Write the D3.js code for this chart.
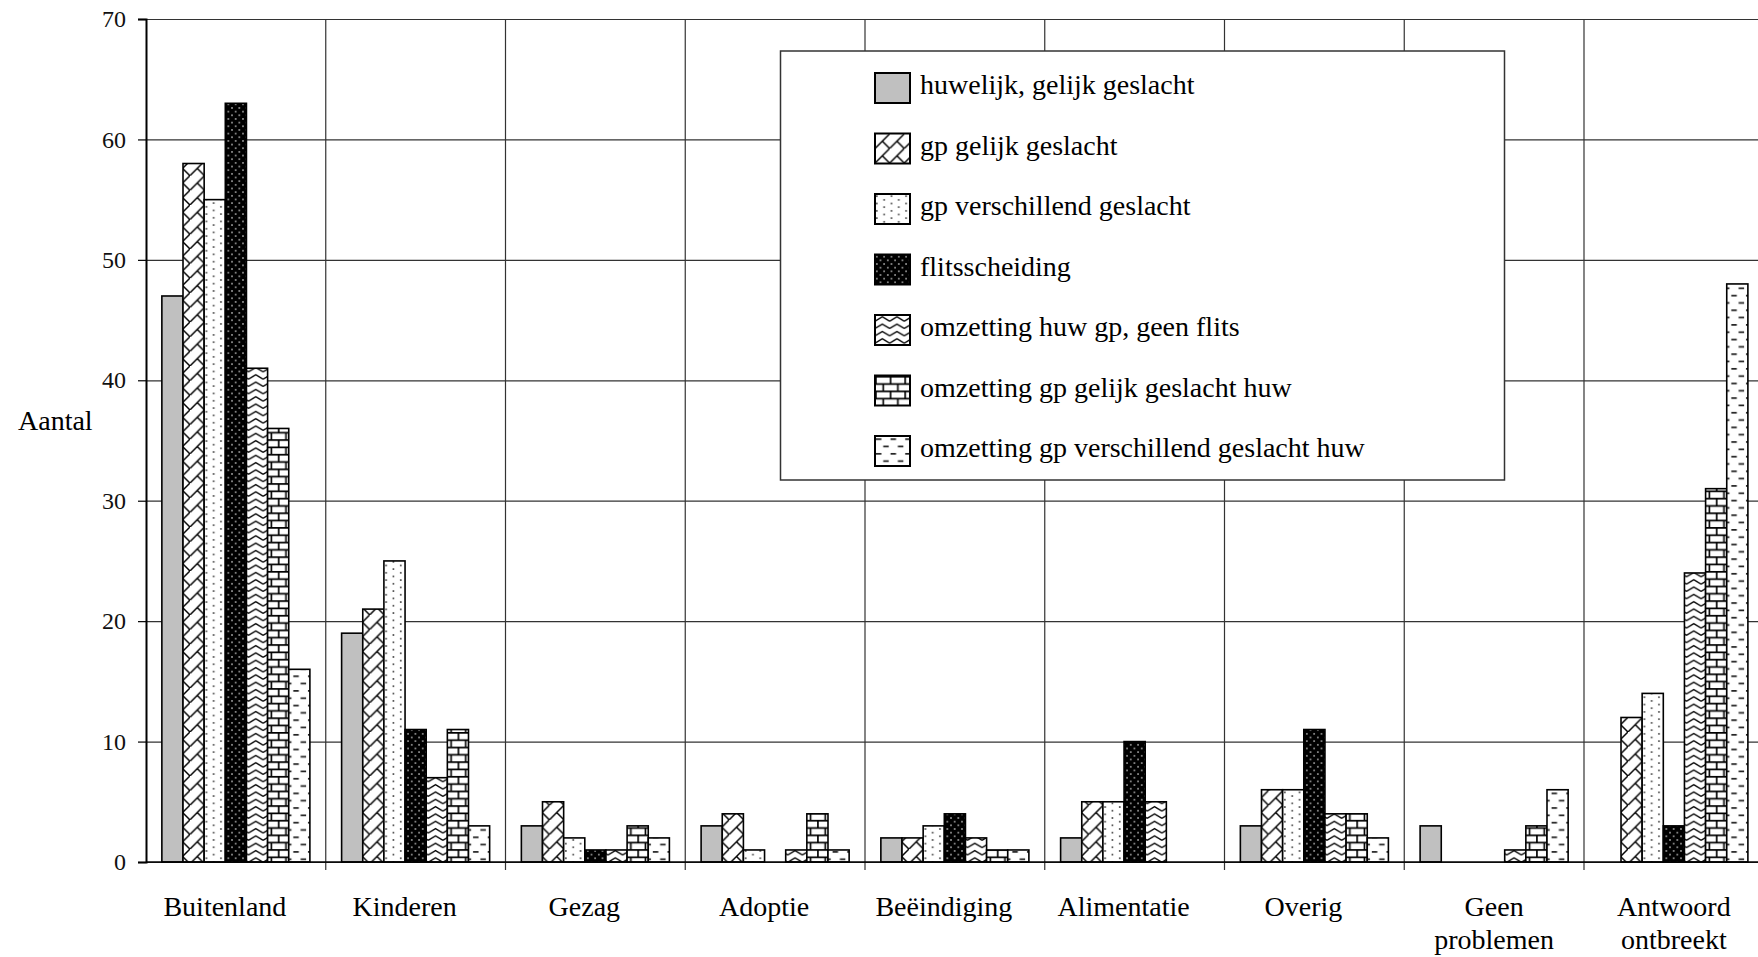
<!DOCTYPE html>
<html>
<head>
    <meta charset="utf-8">
    <style>
        body { margin: 0; background: #fff; }
        svg { display: block; font-family: 'Liberation Serif', 'DejaVu Serif', serif; }
        .tick text { font-size: 24px; fill: #111; font-family: 'Liberation Serif', serif; }
    </style>
</head>
<body>
<svg width="1758" height="957"></svg>

<script src="https://d3js.org/d3.v7.min.js"></script>
<script>
    //------------------------DATA------------------------//
    let categories = ["Buitenland", "Kinderen", "Gezag", "Adoptie", "Beëindiging",
                      "Alimentatie", "Overig", "Geen problemen", "Antwoord ontbreekt"]
    let catLabels = [["Buitenland"], ["Kinderen"], ["Gezag"], ["Adoptie"], ["Beëindiging"],
                     ["Alimentatie"], ["Overig"], ["Geen", "problemen"], ["Antwoord", "ontbreekt"]]

    let seriesNames = ["huwelijk, gelijk geslacht", "gp gelijk geslacht", "gp verschillend geslacht",
                       "flitsscheiding", "omzetting huw gp, geen flits", "omzetting gp gelijk geslacht huw",
                       "omzetting gp verschillend geslacht huw"]

    let huwelijkGelijk      = [47, 19, 3, 3, 2, 2, 3, 3, 0]
    let gpGelijk            = [58, 21, 5, 4, 2, 5, 6, 0, 12]
    let gpVerschillend      = [55, 25, 2, 1, 3, 5, 6, 0, 14]
    let flitsscheiding      = [63, 11, 1, 0, 4, 10, 11, 0, 3]
    let omzettingHuwGp      = [41, 7, 1, 1, 2, 5, 4, 1, 24]
    let omzettingGpGelijk   = [36, 11, 3, 4, 1, 0, 4, 3, 31]
    let omzettingGpVersch   = [16, 3, 2, 1, 1, 0, 2, 6, 48]

    let seriesValues = [huwelijkGelijk, gpGelijk, gpVerschillend, flitsscheiding,
                        omzettingHuwGp, omzettingGpGelijk, omzettingGpVersch]
    let yTicks = [0, 10, 20, 30, 40, 50, 60, 70]

    //------------------------SETUP------------------------//
    let svg = d3.select("svg")
    let plotLeft = 146, plotTop = 19, plotBottom = 862
    let catWidth = 179.75

    let x = d3.scaleBand()
        .domain(categories)
        .range([plotLeft, plotLeft + catWidth * categories.length])
        .padding(0)

    let x1 = d3.scaleBand()
        .domain(d3.range(seriesNames.length))
        .range([0, catWidth])
        .paddingInner(0)
        .paddingOuter(0.75)

    let y = d3.scaleLinear()
        .domain([0, 70])
        .range([plotBottom, plotTop])

    //------------------------PATTERNS------------------------//
    let defs = svg.append("defs")
    let s = 1.83
    function pattern(id, w, h, bg) {
        let p = defs.append("pattern")
            .attr("id", id)
            .attr("patternUnits", "userSpaceOnUse")
            .attr("width", w).attr("height", h)
            .attr("patternTransform", "scale(" + s + ")")
        p.append("rect").attr("width", w).attr("height", h).attr("fill", bg)
        return p
    }

    // diagonal brick
    pattern("p1", 8, 8, "#fff").append("path")
        .attr("d", "M-1,9 L9,-1 M4,4 L9,9 M-1,-1 L0,0")
        .attr("stroke", "#000").attr("stroke-width", 0.8).attr("fill", "none")

    // light dots
    let pd = pattern("p2", 8, 4, "#fff")
    pd.append("circle").attr("cx", 1).attr("cy", 1).attr("r", 0.55).attr("fill", "#444")
    pd.append("circle").attr("cx", 5).attr("cy", 3).attr("r", 0.55).attr("fill", "#444")

    // dark with dots
    let pk = pattern("p3", 4, 4, "#000")
    pk.append("circle").attr("cx", 1).attr("cy", 1).attr("r", 0.5).attr("fill", "#aaa")
    pk.append("circle").attr("cx", 3).attr("cy", 3).attr("r", 0.5).attr("fill", "#aaa")

    // zigzag
    pattern("p4", 8, 4, "#fff").append("path")
        .attr("d", "M0,3.2 L4,0.8 L8,3.2")
        .attr("stroke", "#000").attr("stroke-width", 0.7).attr("fill", "none")

    // brick
    pattern("p5", 8, 8, "#fff").append("path")
        .attr("d", "M0,0.5 H8 M0,4.5 H8 M0.5,0.5 V4.5 M4.5,4.5 V8.5 M4.5,-0.5 V0.5")
        .attr("stroke", "#000").attr("stroke-width", 0.9).attr("fill", "none")

    // dashes
    pattern("p6", 8, 8, "#fff").append("path")
        .attr("d", "M0.5,1.5 H3.5 M4.5,5.5 H7.5")
        .attr("stroke", "#222").attr("stroke-width", 0.9).attr("fill", "none")

    let fills = ["#c0c0c0", "url(#p1)", "url(#p2)", "url(#p3)", "url(#p4)", "url(#p5)", "url(#p6)"]

    //------------------------GRID------------------------//
    svg.append("g")
        .attr("transform", "translate(" + plotLeft + ",0)")
        .call(d3.axisLeft(y).tickValues(yTicks).tickSize(-(1758 - plotLeft)).tickFormat(""))
        .call(g => g.select(".domain").remove())
        .selectAll("line").attr("stroke", "#333").attr("stroke-width", 1.2)

    let boundaries = categories.map(c => x(c)).concat([x.range()[1]])
    svg.append("g").selectAll("line")
        .data(boundaries.slice(1))
        .join("line")
        .attr("x1", d => d).attr("x2", d => d)
        .attr("y1", plotTop).attr("y2", plotBottom + 8)
        .attr("stroke", "#333").attr("stroke-width", 1.2)

    //------------------------BARS------------------------//
    let groups = svg.append("g").selectAll("g")
        .data(categories)
        .join("g")
        .attr("transform", d => "translate(" + x(d) + ",0)")

    groups.selectAll("rect")
        .data((c, i) => seriesValues.map((vals, k) => ({k: k, v: vals[i]})).filter(d => d.v > 0))
        .join("rect")
        .attr("x", d => x1(d.k))
        .attr("width", x1.bandwidth())
        .attr("y", d => y(d.v))
        .attr("height", d => y(0) - y(d.v))
        .attr("fill", d => fills[d.k])
        .attr("stroke", "#000")
        .attr("stroke-width", 1.6)

    //------------------------AXES------------------------//
    let yAxis = svg.append("g")
        .attr("transform", "translate(" + plotLeft + ",0)")
        .call(d3.axisLeft(y).tickValues(yTicks).tickSize(8).tickPadding(12))
    yAxis.attr("font-family", null)
    yAxis.select(".domain").attr("stroke", "#000").attr("stroke-width", 2)
    yAxis.selectAll(".tick line").attr("stroke", "#000").attr("stroke-width", 1.2)

    svg.append("line")
        .attr("x1", plotLeft).attr("x2", 1758)
        .attr("y1", plotBottom).attr("y2", plotBottom)
        .attr("stroke", "#000").attr("stroke-width", 1.6)

    svg.append("text")
        .attr("x", 18).attr("y", 420)
        .attr("dominant-baseline", "central")
        .style("font-size", "28px")
        .text("Aantal")

    let catText = svg.append("g").selectAll("text")
        .data(categories)
        .join("text")
        .attr("x", (d, i) => x(d) + x.bandwidth() / 2 + (catLabels[i].length > 1 ? 0 : -11))
        .attr("y", 916)
        .attr("text-anchor", "middle")
        .style("font-size", "28px")
    catText.selectAll("tspan")
        .data((d, i) => catLabels[i])
        .join("tspan")
        .attr("x", function() { return d3.select(this.parentNode).attr("x") })
        .attr("dy", (d, j) => j === 0 ? 0 : 33)
        .text(d => d)

    //------------------------LEGEND------------------------//
    let legend = svg.append("g")
    legend.append("rect")
        .attr("x", 780.5).attr("y", 51)
        .attr("width", 724).attr("height", 429)
        .attr("fill", "#fff").attr("stroke", "#333").attr("stroke-width", 1.5)

    let rowY = d3.scaleLinear().domain([0, 6]).range([88, 451])
    let items = legend.selectAll(".item")
        .data(seriesNames)
        .join("g")
        .attr("class", "item")
        .attr("transform", (d, i) => "translate(875," + rowY(i) + ")")
    items.append("rect")
        .attr("x", 0).attr("y", -15)
        .attr("width", 35).attr("height", 30)
        .attr("fill", (d, i) => fills[i])
        .attr("stroke", "#000").attr("stroke-width", 2)
    items.append("text")
        .attr("x", 45).attr("y", 6)
        .style("font-size", "28px")
        .text(d => d)
</script>
</body>
</html>
